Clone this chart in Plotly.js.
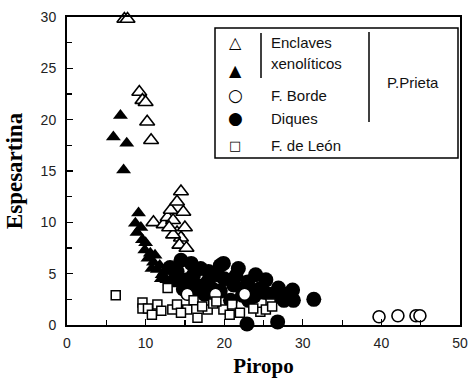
<!DOCTYPE html>
<html>
<head>
<meta charset="utf-8">
<script src="https://cdn.plot.ly/plotly-3.0.1.min.js"></script>
<style>html,body{margin:0;padding:0;background:#fff;}#chart{width:473px;height:384px;}</style>
</head>
<body>
<div id="chart"></div>
<script>
// Enclaves xenolíticos (open triangles)
var xOpenTri = [7.3, 7.7, 9.2, 9.6, 10.0, 10.2, 10.7, 11.0, 12.3, 12.8, 13.2, 13.5, 14.0, 14.5, 14.0, 14.5, 15.0, 13.5, 14.3, 15.2, 13.0, 14.8];
var yOpenTri = [29.8, 29.8, 22.7, 21.9, 21.7, 19.8, 18.0, 10.0, 9.8, 10.5, 11.2, 10.2, 12.0, 13.0, 9.0, 8.5, 9.5, 8.8, 7.8, 7.5, 9.5, 11.0];
// Enclaves xenolíticos (filled triangles)
var xFillTri = [6.8, 5.9, 7.6, 7.2, 9.1, 8.7, 8.9, 9.6, 9.9, 10.3, 11.0, 11.5, 12.1, 12.7, 13.1, 9.4, 10.0, 10.6, 11.2, 11.8, 12.4, 13.5, 10.8, 12.0];
var yFillTri = [20.4, 18.3, 17.7, 15.1, 10.9, 9.9, 9.0, 8.3, 7.3, 6.5, 6.1, 5.4, 4.9, 4.4, 4.2, 9.5, 8.0, 7.0, 6.8, 5.8, 5.2, 4.0, 5.5, 4.5];
// Diques (filled circles)
var xDiques = [13.1, 14.0, 15.3, 16.1, 17.0, 17.9, 19.1, 19.9, 21.2, 22.3, 23.1, 20.8, 19.5, 21.8, 24.0, 25.3, 26.9, 28.7, 28.8, 27.6, 14.5, 15.8, 16.8, 18.5, 20.0, 21.5, 23.0, 24.5, 25.8, 27.0, 13.8, 16.5, 18.0, 22.8, 25.0, 26.2, 28.0, 31.4, 22.9, 26.8, 14.8, 17.5, 19.5, 23.8];
var yDiques = [5.6, 5.2, 4.4, 4.9, 5.5, 4.2, 4.9, 6.0, 3.9, 2.9, 2.4, 2.4, 5.8, 5.5, 4.9, 4.4, 3.6, 3.4, 2.4, 2.4, 6.3, 6.0, 3.8, 3.5, 4.5, 4.8, 4.2, 3.5, 3.0, 2.8, 4.5, 3.5, 5.2, 3.8, 3.2, 2.7, 3.0, 2.5, 0.1, 0.3, 3.5, 3.0, 3.3, 2.8];
// F. Borde (open circles)
var xBorde = [15.3, 18.9, 22.6, 39.7, 42.1, 44.4, 44.9];
var yBorde = [3.0, 3.0, 3.0, 0.8, 0.9, 0.9, 0.9];
// F. de León (open squares)
var xLeon = [6.2, 12.8, 9.6, 9.6, 10.3, 11.5, 13.4, 14.0, 15.3, 16.1, 17.9, 18.6, 19.9, 21.0, 20.7, 16.6, 24.6, 25.9, 25.3, 26.1, 23.7, 12.0, 14.5, 17.2, 19.0, 22.0, 10.8];
var yLeon = [2.9, 3.6, 2.2, 1.6, 1.6, 2.0, 1.5, 2.0, 1.5, 2.4, 1.5, 2.1, 1.5, 2.0, 1.0, 0.7, 1.3, 2.1, 1.5, 1.8, 1.6, 1.4, 1.2, 1.8, 2.3, 1.2, 1.0];

var xTickVals = [0, 10, 20, 30, 40, 50];
var yTickVals = [0, 5, 10, 15, 20, 25, 30];
var xTitle = 'Piropo';
var yTitle = 'Espesartina';
var legendLines = ['Enclaves', 'xenolíticos', 'F. Borde', 'Diques', 'F. de León'];
var groupLabel = 'P.Prieta';

var W = 473, H = 384, ML = 67, MR = 13, MT = 17, MB = 59;
function px(x) { return (x - ML) / (W - ML - MR); }
function py(y) { return (H - MB - y) / (H - MT - MB); }

function tr(x, y, symbol, size, fill, lw) {
  return {
    x: x, y: y, type: 'scatter', mode: 'markers', cliponaxis: false, showlegend: false,
    marker: { symbol: symbol, size: size, color: fill, line: { color: '#000', width: lw } }
  };
}
var data = [
  tr(xFillTri, yFillTri, 'triangle-up', 13, '#000', 0),
  tr(xDiques, yDiques, 'circle', 15, '#000', 0),
  tr(xOpenTri, yOpenTri, 'triangle-up', 13, '#fff', 1.6),
  tr(xBorde, yBorde, 'circle', 12, '#fff', 1.6),
  tr(xLeon, yLeon, 'square', 9, '#fff', 1.5)
];

var txtFont = { family: 'Liberation Sans, Arial, sans-serif', size: 15, color: '#111' };
var ann = [];
var rows = [42, 63, 95, 118, 145];
legendLines.forEach(function (t, i) {
  ann.push({ xref: 'paper', yref: 'paper', x: px(269), y: py(rows[i]), text: t, showarrow: false,
    xanchor: 'left', yanchor: 'middle', font: txtFont });
});
ann.push({ xref: 'paper', yref: 'paper', x: px(413), y: py(82), text: groupLabel, showarrow: false,
  xanchor: 'center', yanchor: 'middle', font: txtFont });
var glyphs = [['\u25B3', 42, 16], ['\u25B2', 70, 16], ['\u25CB', 95, 17], ['\u25CF', 118, 17], ['\u25A1', 145, 13]];
glyphs.forEach(function (g) {
  ann.push({ xref: 'paper', yref: 'paper', x: px(235), y: py(g[1]), text: g[0], showarrow: false,
    xanchor: 'center', yanchor: 'middle', font: { family: 'DejaVu Sans', size: g[2], color: '#000' } });
});

var shapes = [
  { type: 'rect', xref: 'paper', yref: 'paper', x0: px(215), x1: px(458), y0: py(158), y1: py(28),
    line: { color: '#000', width: 1.5 }, fillcolor: 'rgba(0,0,0,0)' },
  { type: 'line', xref: 'paper', yref: 'paper', x0: px(261), x1: px(261), y0: py(78), y1: py(33),
    line: { color: '#000', width: 1.5 } },
  { type: 'line', xref: 'paper', yref: 'paper', x0: px(369), x1: px(369), y0: py(122), y1: py(32),
    line: { color: '#000', width: 1.5 } }
];

var tickFont = { family: 'Liberation Sans, Arial, sans-serif', size: 14, color: '#222' };
var xTitleFont = { family: 'Liberation Serif, Times New Roman, serif', size: 21, color: '#000', weight: 'bold' };
var yTitleFont = { family: 'Liberation Serif, Times New Roman, serif', size: 23, color: '#000', weight: 'bold' };
var layout = {
  width: W, height: H,
  margin: { l: ML, r: MR, t: MT, b: MB },
  paper_bgcolor: '#fff', plot_bgcolor: '#fff',
  showlegend: false,
  xaxis: {
    range: [0, 50], tickvals: xTickVals, ticks: 'inside', ticklen: 6, tickwidth: 1.2, tickcolor: '#000',
    minor: { dtick: 5, ticks: 'inside', ticklen: 5, tickwidth: 1.2, tickcolor: '#000' },
    showgrid: false, zeroline: false, showline: true, linewidth: 2, linecolor: '#000', mirror: true,
    tickfont: tickFont, ticklabelstandoff: 4,
    title: { text: xTitle, font: xTitleFont, standoff: 9 }
  },
  yaxis: {
    range: [0, 30], tickvals: yTickVals, ticks: 'inside', ticklen: 6, tickwidth: 1.2, tickcolor: '#000',
    minor: { dtick: 2.5, ticks: 'inside', ticklen: 5, tickwidth: 1.2, tickcolor: '#000' },
    showgrid: false, zeroline: false, showline: true, linewidth: 2, linecolor: '#000', mirror: true,
    tickfont: tickFont, ticklabelstandoff: 6,
    title: { text: yTitle, font: yTitleFont, standoff: 12 }
  },
  annotations: ann,
  shapes: shapes
};
Plotly.newPlot('chart', data, layout, { staticPlot: true, displayModeBar: false });
</script>
</body>
</html>
